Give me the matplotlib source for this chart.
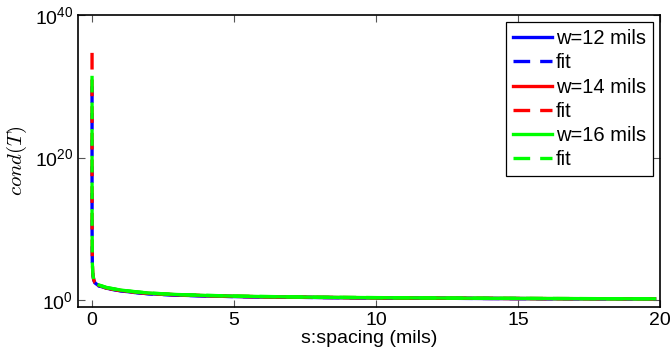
import matplotlib
matplotlib.use('Agg')
import matplotlib.pyplot as plt
import matplotlib.ticker as mticker

plt.rcParams['font.family'] = ['Liberation Sans', 'DejaVu Sans']
plt.rcParams['mathtext.fontset'] = 'custom'
plt.rcParams['mathtext.rm'] = 'Liberation Sans'
plt.rcParams['mathtext.it'] = 'Liberation Sans:italic'

# measured condition numbers vs spacing
s_data = [0.25, 0.5, 1, 1.5, 2, 3, 4, 5, 6, 8, 10, 12, 14, 16, 18, 19.8]
cond_w12 = [95, 45, 20, 11, 7.5, 4.8, 3.6, 3.0, 2.6, 2.2, 1.9, 1.75, 1.6, 1.5, 1.45, 1.4]
cond_w14 = [110, 50, 22, 12.5, 8.5, 5.3, 4.0, 3.3, 2.8, 2.3, 2.0, 1.8, 1.65, 1.55, 1.5, 1.45]
cond_w16 = [125, 58, 25, 14, 9.5, 5.8, 4.3, 3.5, 3.0, 2.4, 2.1, 1.9, 1.7, 1.6, 1.5, 1.45]

# fitted curves (evaluated from almost zero spacing)
s_fit = [1e-9, 1e-7, 1e-6, 1e-5, 1e-4, 1e-3, 0.01, 0.03, 0.06, 0.1, 0.25, 0.5, 1, 2, 3, 5, 8, 12, 16, 19.8]
fit_w12 = [1e30, 3e25, 1e22, 3e18, 1e15, 1e10, 1e5, 3e3, 600, 250, 90, 42, 19, 7.2, 4.7, 3.0, 2.2, 1.75, 1.5, 1.4]
fit_w14 = [5e34, 1e29, 3e25, 1e21, 3e16, 1e11, 2e5, 4e3, 700, 280, 105, 48, 21, 8.2, 5.2, 3.2, 2.3, 1.8, 1.55, 1.45]
fit_w16 = [3e31, 1e27, 1e23, 1e20, 3e15, 5e10, 1.5e5, 3.5e3, 650, 270, 120, 55, 24, 9.2, 5.7, 3.5, 2.4, 1.9, 1.6, 1.45]

series = [
    ('w=12 mils', cond_w12, fit_w12, (0, 0, 1)),
    ('w=14 mils', cond_w14, fit_w14, (1, 0, 0)),
    ('w=16 mils', cond_w16, fit_w16, (0, 1, 0)),
]

fig = plt.figure(figsize=(6.71, 3.60), dpi=100)
ax = fig.add_axes([0.116, 0.147, 0.868, 0.811])

for label, cond, fit, col in series:
    ax.plot(s_data, cond, '-', color=col, lw=2.4, label=label)
    ax.plot(s_fit, fit, '--', color=col, lw=2.4, dashes=(5, 3), label='fit')

ax.set_yscale('log')
ax.set_xlim(-0.5, 20)
ax.set_ylim(10**-1, 1e40)
ax.set_xticks([0, 5, 10, 15, 20])
ax.set_yticks([1, 1e20, 1e40])
ax.yaxis.set_minor_locator(mticker.NullLocator())
ax.tick_params(direction='in', top=True, right=True, labelsize=14, length=5, width=0.8, color='#555555')
for sp in ax.spines.values():
    sp.set_linewidth(1.2)

ax.set_xlabel('s:spacing (mils)', fontsize=14, labelpad=1)
ax.set_ylabel('$cond(T)$', fontsize=15, math_fontfamily='cm', labelpad=4)

leg = ax.legend(loc='upper right', fontsize=14.5, handlelength=1.95, handletextpad=0.2,
                labelspacing=0.26, borderpad=0.35, borderaxespad=0.35, fancybox=False,
                framealpha=1)
leg.get_frame().set_edgecolor('black')
leg.get_frame().set_linewidth(0.9)

fig.savefig('out.png', dpi=100)
